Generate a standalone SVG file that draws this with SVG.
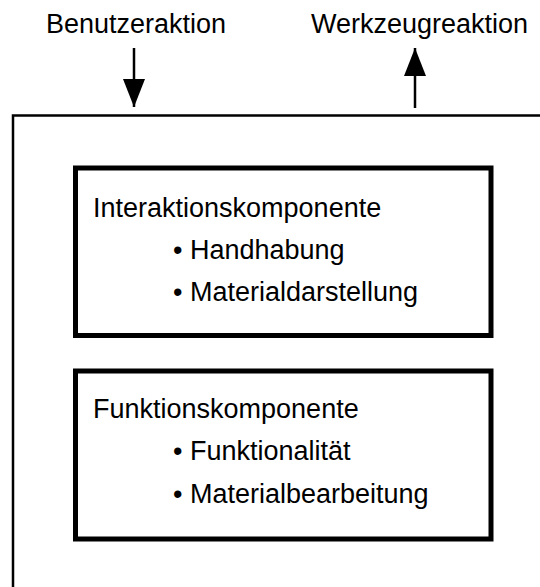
<svg xmlns="http://www.w3.org/2000/svg" width="540" height="587" viewBox="0 0 540 587">
  <style>
    text { font-family: "Liberation Sans", Arial, Helvetica, sans-serif; font-size: 27px; fill: #000; }
    .frame { fill: none; stroke: #000; stroke-width: 2.5; }
    .box { fill: #fff; stroke: #000; stroke-width: 5; }
    .flow { stroke: #000; stroke-width: 2.5; fill: none; }
  </style>
  <defs>
    <marker id="head" viewBox="0 0 28 22" refX="28" refY="11" markerWidth="28" markerHeight="22" markerUnits="userSpaceOnUse" orient="auto">
      <path d="M0,0 L28,11 L0,22 Z" fill="#000"/>
    </marker>
  </defs>

  <!-- tool frame, open to the right and bottom -->
  <g id="tool">
    <path class="frame" d="M13,587 L13,115.5 L540,115.5"/>
  </g>

  <g id="labels">
    <text x="46" y="33">Benutzeraktion</text>
    <text x="311" y="33">Werkzeugreaktion</text>
  </g>

  <g id="connectors">
    <line class="flow" x1="134" y1="48" x2="134" y2="107" marker-end="url(#head)"/>
    <line class="flow" x1="415" y1="108" x2="415" y2="48" marker-end="url(#head)"/>
  </g>

  <g id="interaktion">
    <rect class="box" x="75.5" y="168" width="415.5" height="167.5"/>
    <text x="93" y="217">Interaktionskomponente</text>
    <text x="173" y="259">• Handhabung</text>
    <text x="173" y="301">• Materialdarstellung</text>
  </g>

  <g id="funktion">
    <rect class="box" x="75.5" y="371" width="415.5" height="168"/>
    <text x="93" y="418">Funktionskomponente</text>
    <text x="173" y="460">• Funktionalität</text>
    <text x="173" y="503">• Materialbearbeitung</text>
  </g>
</svg>
